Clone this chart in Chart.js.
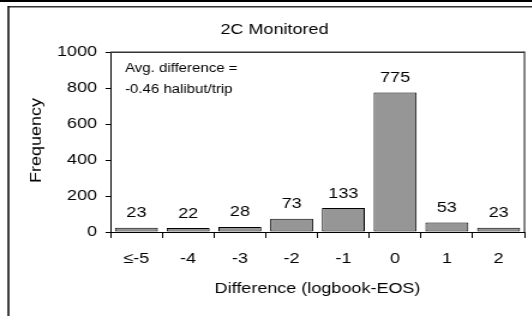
<!DOCTYPE html>
<html><head><meta charset="utf-8">
<script src="https://cdn.jsdelivr.net/npm/chart.js@4/dist/chart.umd.min.js"></script>
<style>
html,body{margin:0;padding:0;background:#fff;overflow:hidden}
#wrap{width:443.333px;height:316px;transform:scaleX(1.2);transform-origin:0 0;}
</style></head><body>
<div id="wrap"><canvas id="c"></canvas></div>
<script>
const categories = ["≤-5","-4","-3","-2","-1","0","1","2"];
const frequency = [23,22,28,73,133,775,53,23];
const yTicks = [0,200,400,600,800,1000];
const chartTitle = "2C Monitored";
const xTitle = "Difference (logbook-EOS)";
const yTitle = "Frequency";
const noteLines = ["Avg. difference =","-0.46 halibut/trip"];

const SX = 1.2;
const FONT = "'Liberation Sans', Arial, Helvetica, sans-serif";

const decor = {
  id: 'decor',
  afterDraw(chart) {
    const ctx = chart.ctx;
    const W = chart.width;
    const ca = chart.chartArea;
    ctx.save();
    // outer frame
    ctx.fillStyle = '#000';
    ctx.fillRect(0, 0, W, 2);
    ctx.fillStyle = '#333';
    ctx.fillRect(8/SX, 6, W, 1.5);
    ctx.fillStyle = '#000';
    ctx.fillRect(7.5/SX, 6, 1.8/SX, 316);
    // plot box top and right
    ctx.fillStyle = '#333';
    ctx.fillRect(ca.left, ca.top - 0.5, ca.right - ca.left, 1.5);
    ctx.fillRect(ca.right - 0.6, ca.top - 0.5, 1.2, ca.bottom - ca.top + 0.5);
    // y title (rotated)
    ctx.fillStyle = '#000';
    ctx.font = '15px ' + FONT;
    ctx.textAlign = 'center';
    ctx.textBaseline = 'middle';
    ctx.save();
    ctx.translate(36.5/SX, 140.5);
    ctx.rotate(-Math.PI/2);
    ctx.scale(SX, 1/SX);
    ctx.fillText(yTitle, 0, 0);
    ctx.restore();
    // note
    ctx.font = '12.5px ' + FONT;
    ctx.textAlign = 'left';
    ctx.textBaseline = 'alphabetic';
    ctx.fillText(noteLines[0], 125/SX, 72);
    ctx.fillText(noteLines[1], 125/SX, 93);
    // data labels
    ctx.font = '15px ' + FONT;
    ctx.textAlign = 'center';
    const meta = chart.getDatasetMeta(0);
    const ys = chart.scales.y;
    frequency.forEach((v, i) => {
      const bar = meta.data[i];
      ctx.fillText(String(v), bar.x, ys.getPixelForValue(v) - 10.5);
    });
    ctx.restore();
  }
};

new Chart(document.getElementById('c'), {
  type: 'bar',
  data: {
    labels: categories,
    datasets: [{
      data: frequency,
      backgroundColor: '#969696',
      borderColor: '#000',
      borderWidth: 1,
      borderSkipped: false,
      categoryPercentage: 1,
      barPercentage: 0.83
    }]
  },
  options: {
    responsive: true,
    maintainAspectRatio: false,
    animation: false,
    events: [],
    layout: { padding: { left: 20.4, right: 6.25, top: 0, bottom: 0 } },
    plugins: {
      legend: { display: false },
      tooltip: { enabled: false },
      title: {
        display: true,
        text: chartTitle,
        color: '#000',
        font: { family: FONT, size: 15, weight: 'normal', lineHeight: 1.2 },
        padding: { top: 21, bottom: 13 }
      }
    },
    scales: {
      x: {
        offset: true,
        grid: { display: true, drawOnChartArea: false, drawTicks: true, tickLength: 6, color: '#000', offset: true },
        border: { display: true, color: '#000', width: 1 },
        ticks: { color: '#000', font: { family: FONT, size: 15, lineHeight: 1.2 }, padding: 12, maxRotation: 0, autoSkip: false },
        title: { display: true, text: xTitle, color: '#000', font: { family: FONT, size: 15, lineHeight: 1.2 }, padding: { top: 0, bottom: 18.5 } },
        afterFit(s) { s.height = 84; }
      },
      y: {
        min: 0, max: 1000,
        grid: { display: true, drawOnChartArea: false, drawTicks: true, tickLength: 4.17, color: '#000' },
        border: { display: true, color: '#000', width: 1 },
        ticks: { color: '#000', font: { family: FONT, size: 15, lineHeight: 1.2 }, padding: 7.1, stepSize: 200, callback: (v) => String(v) },
        afterBuildTicks(s) { s.ticks = yTicks.map(v => ({ value: v })); },
        afterFit(s) { s.width = 71.7; }
      }
    }
  },
  plugins: [decor]
});
</script>
</body></html>
